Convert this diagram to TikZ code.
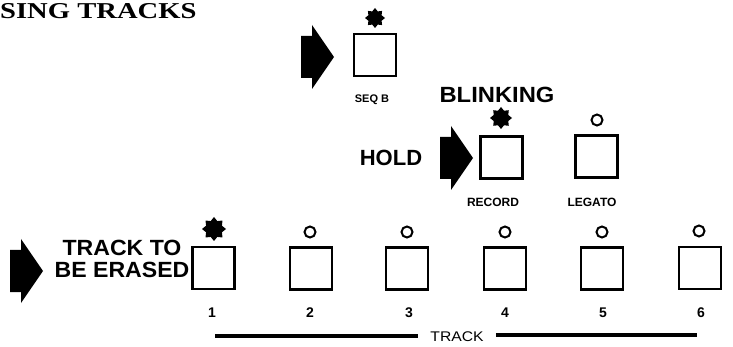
\documentclass[tikz,border=0pt]{standalone}
\usepackage{fontspec}
\setmainfont{Liberation Serif}
\newfontfamily\lsans{Liberation Sans}
\usetikzlibrary{shapes.geometric}
\tikzset{
  btn/.style={draw, line width=2.4pt, minimum size=42pt, inner sep=0pt},
  led/.style={draw, circle, line width=2pt, minimum size=11pt, inner sep=0pt},
  burst/.style={star, star points=8, star point ratio=1.4, fill=black, inner sep=0pt, minimum size=#1},
  biglbl/.style={font=\lsans\bfseries\fontsize{22}{22}\selectfont, inner sep=0pt, anchor=base},
  smalllbl/.style={font=\lsans\bfseries\fontsize{12}{12}\selectfont, inner sep=0pt, anchor=base},
  numlbl/.style={font=\lsans\bfseries\fontsize{14}{14}\selectfont, inner sep=0pt, anchor=base},
  trackline/.style={line width=3.2pt},
  blockarrow/.pic={\fill (-33,-21) -- (-22,-21) -- (-22,-32) -- (0,0) -- (-22,32) -- (-22,21) -- (-33,21) -- cycle;}
}
\begin{document}
\begin{tikzpicture}[x=1pt,y=-1pt]
\useasboundingbox (0,0) rectangle (733,347);

% title
\node[anchor=base west, inner sep=0pt, font=\bfseries\fontsize{22.7}{22.7}\selectfont] (title) at (0,19) {\scalebox{1.26}[1]{SING TRACKS}};

% SEQ B
\pic at (334,57) {blockarrow};
\node[btn] (seqb) at (375,55) {};
\node[burst=20pt] (seqbstar) at (375,18) {};
\node[smalllbl, font=\lsans\bfseries\fontsize{11}{11}\selectfont] (seqblbl) at (372,103) {SEQ B};

% BLINKING / HOLD / RECORD
\node[biglbl] (blink) at (497,103) {\scalebox{1.08}[1]{BLINKING}};
\node[biglbl] (hold) at (391,166) {HOLD};
\pic at (473,158) {blockarrow};
\node[btn] (rec) at (501.5,157.5) {};
\node[burst=22pt] (recstar) at (501,118) {};
\node[smalllbl] (reclbl) at (493,207) {RECORD};

% LEGATO
\node[btn] (leg) at (596.5,156.5) {};
\node[led] (legled) at (597,120) {};
\node[smalllbl] (leglbl) at (592,207) {LEGATO};

% track row
\pic at (43,271) {blockarrow};
\node[biglbl] (tt1) at (122,255) {\scalebox{1.05}[1]{TRACK TO}};
\node[biglbl] (tt2) at (122,277) {\scalebox{1.05}[1]{BE ERASED}};

\node[btn] (t1) at (213.5,268) {};
\node[burst=24pt] (t1star) at (214,229) {};
\node[numlbl] (n1) at (212,317) {1};

\node[btn] (t2) at (311,268.5) {};
\node[led] (l2) at (310,232) {};
\node[numlbl] (n2) at (310,317) {2};

\node[btn] (t3) at (407,268.5) {};
\node[led] (l3) at (407,232) {};
\node[numlbl] (n3) at (409,317) {3};

\node[btn] (t4) at (505,268.5) {};
\node[led] (l4) at (505,232) {};
\node[numlbl] (n4) at (505,317) {4};

\node[btn] (t5) at (602,268.5) {};
\node[led] (l5) at (602,232) {};
\node[numlbl] (n5) at (603,317) {5};

\node[btn] (t6) at (700,268) {};
\node[led] (l6) at (699,231) {};
\node[numlbl] (n6) at (701,317) {6};

% TRACK bracket
\node[font=\lsans\fontsize{14}{14}\selectfont, inner xsep=12pt, inner ysep=0pt] (track) at (457,337) {\scalebox{1.12}[1]{TRACK}};
\coordinate (tl) at (215,336);
\coordinate (tr) at (697,335);
\draw[trackline] (tl) -- (tl -| track.west);
\draw[trackline] (track.east |- tr) -- (tr);
\end{tikzpicture}
\end{document}
